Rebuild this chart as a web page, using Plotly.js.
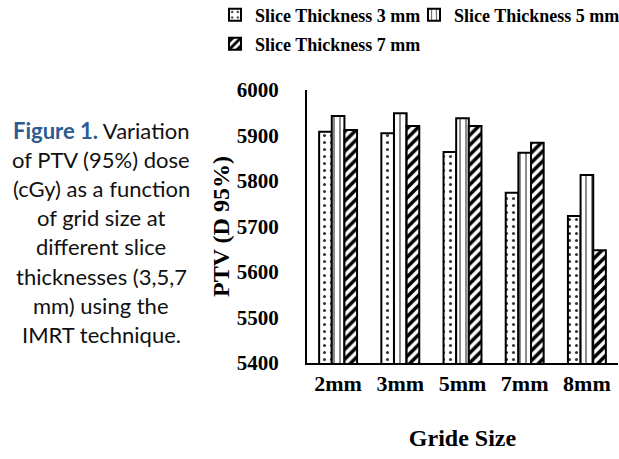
<!DOCTYPE html>
<html>
<head>
<meta charset="utf-8">
<script src="https://cdn.plot.ly/plotly-3.0.1.min.js"></script>
<style>
  html, body { margin: 0; padding: 0; background: #fff; }
  #chart { width: 619px; height: 459px; }
</style>
</head>
<body>
<div id="chart"></div>
<script>
// grid sizes on the x axis
const gridSizes = ['2mm', '3mm', '5mm', '7mm', '8mm'];

// PTV D95% dose (cGy) per slice thickness
const slice3mm = [5908, 5905, 5864, 5774, 5723];
const slice5mm = [5943, 5949, 5938, 5862, 5813];
const slice7mm = [5912, 5921, 5921, 5884, 5648];

const seriesNames = ['Slice Thickness 3 mm', 'Slice Thickness 5 mm', 'Slice Thickness 7 mm'];

const yTicks = [5400, 5500, 5600, 5700, 5800, 5900, 6000];

// caption text beside the chart
const captionLines = [
  '<span style="color:#2E5C8F"><b>Figure 1.</b></span> Variation',
  'of PTV (95%) dose',
  '(cGy) as a function',
  'of grid size at',
  'different slice',
  'thicknesses (3,5,7',
  'mm) using the',
  'IMRT technique.'
];

const serif = 'Liberation Serif, Times New Roman, serif';

const barLine = { color: '#000', width: 2 };

const traces = [
  {
    x: gridSizes, y: slice3mm, name: seriesNames[0], type: 'bar', legend: 'legend',
    marker: {
      color: '#fff', line: barLine,
      pattern: { shape: '.', fgcolor: '#333', bgcolor: '#fff', size: 7, solidity: 0.15 }
    }
  },
  {
    x: gridSizes, y: slice5mm, name: seriesNames[1], type: 'bar', legend: 'legend2',
    marker: {
      color: '#fff', line: barLine,
      pattern: { shape: '|', fgcolor: '#666', bgcolor: '#fff', size: 6, solidity: 0.25 }
    }
  },
  {
    x: gridSizes, y: slice7mm, name: seriesNames[2], type: 'bar', legend: 'legend3',
    marker: {
      color: '#fff', line: barLine,
      pattern: { shape: '/', fgcolor: '#000', bgcolor: '#fff', size: 7, solidity: 0.5 }
    }
  }
];

const plotTop = 90, plotBottom = 363, plotLeft = 307, plotRight = 618;
const pxToPaperX = px => (px - plotLeft) / (plotRight - plotLeft);
const pxToPaperY = py => (plotBottom - py) / (plotBottom - plotTop);

// caption: one annotation per line so the line spacing matches
const captionAnnotations = captionLines.map((line, i) => ({
  xref: 'paper', yref: 'paper',
  x: pxToPaperX(101),
  y: pxToPaperY(130 + i * 29.2),
  xanchor: 'center', yanchor: 'middle',
  text: line, showarrow: false,
  font: { family: 'Lato, Carlito, sans-serif', size: 22, color: '#111' }
}));

// one legend per entry, so each entry sits where the figure has it
const legendBase = {
  orientation: 'h',
  xanchor: 'left', yanchor: 'middle',
  font: { family: serif, size: 18, weight: 'bold', color: '#000' },
  itemwidth: 30,
  borderwidth: 0,
  bgcolor: 'rgba(0,0,0,0)'
};

const layout = {
  width: 619,
  height: 459,
  margin: { l: plotLeft, r: 619 - plotRight, t: plotTop, b: 459 - plotBottom, autoexpand: false },
  paper_bgcolor: '#fff',
  plot_bgcolor: '#fff',
  font: { family: serif, color: '#000' },
  barmode: 'group',
  bargap: 0.39,
  bargroupgap: 0,
  showlegend: true,
  legend: Object.assign({}, legendBase, { x: pxToPaperX(215), y: pxToPaperY(15) }),
  legend2: Object.assign({}, legendBase, { x: pxToPaperX(414), y: pxToPaperY(15) }),
  legend3: Object.assign({}, legendBase, { x: pxToPaperX(215), y: pxToPaperY(44) }),
  xaxis: {
    showline: true, linecolor: '#000', linewidth: 2,
    showgrid: false, zeroline: false,
    ticks: '',
    tickfont: { family: serif, size: 22, weight: 'bold' },
    title: { text: 'Gride Size', font: { family: serif, size: 24, weight: 'bold' }, standoff: 34 }
  },
  yaxis: {
    range: [5400, 6000],
    tickvals: yTicks,
    showline: true, linecolor: '#000', linewidth: 2,
    showgrid: false, zeroline: false,
    ticks: 'outside', ticklen: 22, tickcolor: 'rgba(0,0,0,0)',
    tickfont: { family: serif, size: 21, weight: 'bold' },
    title: { text: 'PTV (D 95%)', font: { family: serif, size: 24, weight: 'bold' }, standoff: 0 }
  },
  annotations: captionAnnotations
};

Plotly.newPlot('chart', traces, layout, { displayModeBar: false, staticPlot: true });
</script>
</body>
</html>
